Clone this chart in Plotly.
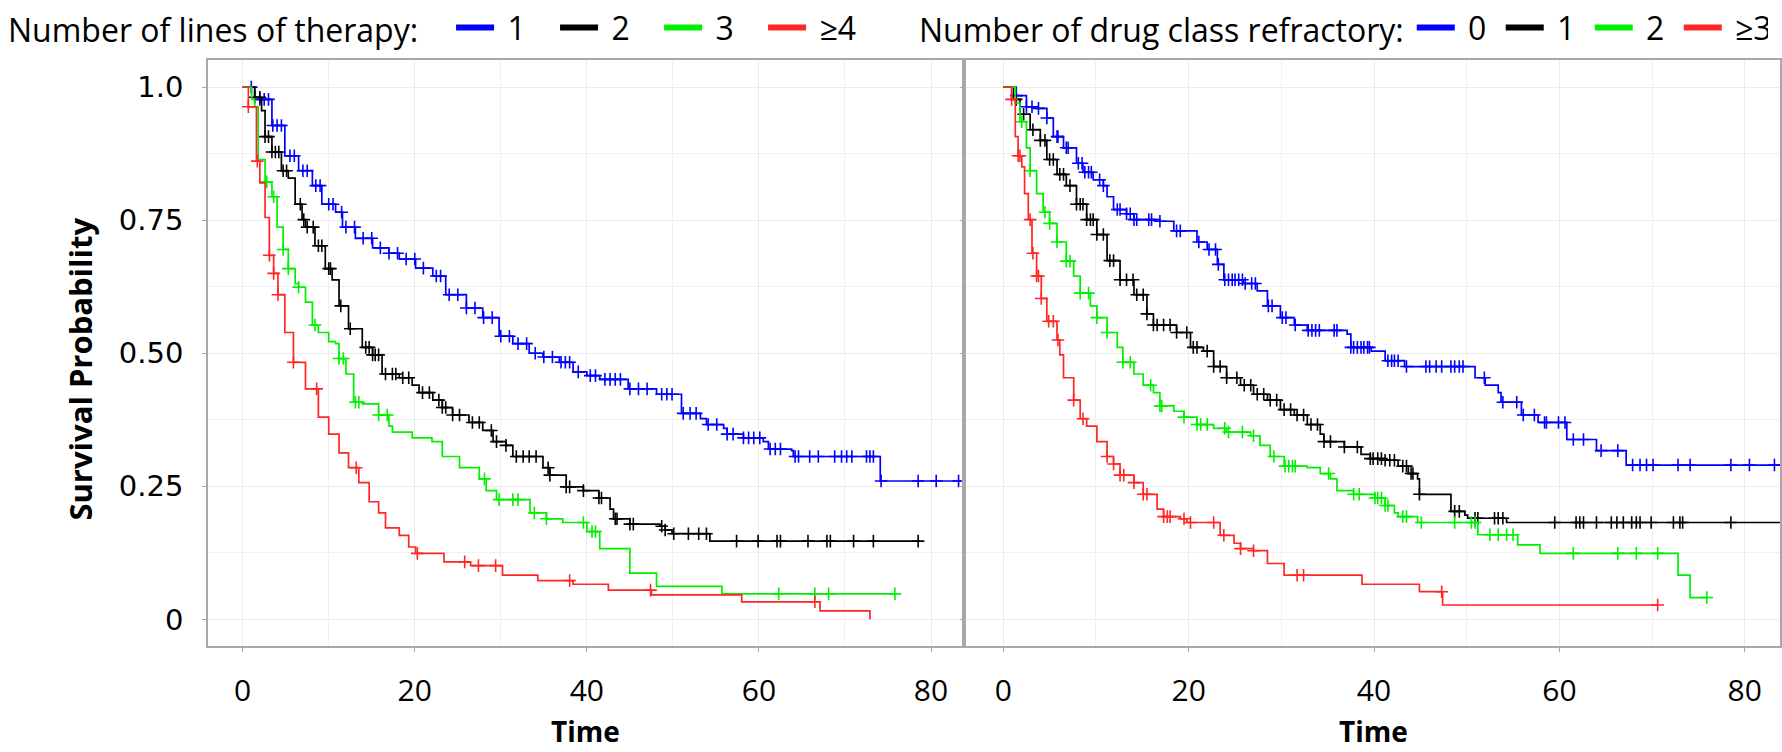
import numpy as np
import plotly.graph_objects as go

# ---------------- Kaplan-Meier step data: number of lines of therapy ----------------
lot_labels = ["1", "2", "3", "≥4"]

lot1_time = [0, 1.4, 3.4, 4.9, 6.5, 8.1, 9.2, 10.8, 11.6, 13.1, 15.1, 17.0, 18.2, 20.1, 22.1, 23.6,
             26.0, 27.9, 29.8, 31.4, 33.3, 34.9, 36.8, 38.4, 40.0, 41.5, 44.8, 48.1, 51.0, 53.2, 53.9,
             55.9, 56.3, 58.2, 60.5, 61.1, 63.8, 64.0, 74.1, 83.5]
lot1_surv = [1.0, 0.977, 0.928, 0.871, 0.843, 0.815, 0.78, 0.765, 0.737, 0.716, 0.698, 0.688, 0.677, 0.66,
             0.645, 0.61, 0.585, 0.567, 0.532, 0.518, 0.50, 0.493, 0.483, 0.465, 0.458, 0.451, 0.433, 0.423,
             0.387, 0.377, 0.366, 0.359, 0.348, 0.341, 0.334, 0.32, 0.317, 0.306, 0.26, 0.26]
lot1_cens = [1.0, 2.0, 2.5, 3.0, 3.5, 4.0, 4.5, 5.5, 6.0, 7.0, 7.5, 8.5, 9.0, 10.0, 10.5, 11.5, 12.0, 13.0,
             14.0, 15.0, 16.0, 17.0, 18.0, 19.0, 20.0, 21.0, 22.5, 23.0, 24.0, 25.0, 26.0, 27.0, 28.0, 29.0,
             30.0, 31.0, 32.0, 33.0, 34.0, 35.0, 36.0, 37.0, 37.5, 38.0, 39.0, 40.4, 41.0, 42.1, 42.7, 43.3,
             43.9, 45.0, 46.0, 47.0, 48.7, 49.3, 49.9, 51.2, 52.0, 52.7, 54.1, 55.1, 56.3, 57.0, 58.2, 58.8,
             59.4, 60.1, 61.3, 61.9, 62.5, 64.2, 64.6, 65.9, 66.9, 68.8, 69.6, 70.2, 70.8, 72.5, 72.9, 73.3,
             74.2, 78.5, 80.6, 83.2]

lot2_time = [0, 1.4, 2.2, 2.6, 3.4, 4.5, 5.3, 6.1, 6.9, 7.3, 8.4, 9.6, 10.4, 11.2, 12.3, 13.9, 15.1, 16.2,
             18.2, 19.7, 20.5, 22.1, 23.2, 24.4, 26.3, 27.9, 29.1, 30.6, 31.4, 34.9, 35.7, 37.6, 39.6, 41.4,
             42.7, 43.1, 45.0, 48.5, 49.1, 49.9, 54.3, 78.7]
lot2_surv = [1.0, 0.981, 0.956, 0.907, 0.878, 0.843, 0.829, 0.78, 0.751, 0.737, 0.702, 0.659, 0.638, 0.589,
             0.546, 0.511, 0.497, 0.461, 0.454, 0.44, 0.426, 0.412, 0.398, 0.384, 0.37, 0.355, 0.334, 0.327,
             0.306, 0.285, 0.271, 0.249, 0.242, 0.228, 0.207, 0.189, 0.179, 0.175, 0.168, 0.161, 0.147, 0.147]
lot2_cens = [1.4, 2.0, 2.6, 3.0, 3.4, 3.8, 4.2, 4.7, 5.1, 6.7, 7.1, 7.5, 8.2, 8.8, 9.2, 10.0, 10.2, 11.4,
             12.5, 14.3, 14.7, 15.1, 15.4, 15.8, 16.6, 17.4, 17.8, 18.6, 19.3, 20.9, 21.7, 22.8, 23.2, 23.6,
             24.4, 25.2, 26.7, 27.5, 28.9, 29.5, 30.6, 31.8, 32.6, 33.3, 34.1, 35.5, 35.7, 37.6, 38.0, 39.6,
             41.4, 41.7, 43.3, 43.5, 45.0, 45.4, 48.7, 49.1, 50.1, 51.8, 53.0, 53.9, 57.4, 59.9, 62.1, 62.5,
             65.7, 67.9, 68.3, 71.0, 73.3, 78.5]

lot3_time = [0, 1.05, 1.4, 1.8, 2.6, 3.4, 4.0, 4.7, 5.3, 6.1, 6.5, 7.3, 8.1, 8.8, 10.0, 10.8, 11.2, 12.0,
             12.9, 13.9, 15.8, 17.0, 17.4, 19.7, 22.0, 23.2, 25.2, 27.5, 28.3, 29.5, 33.4, 35.3, 37.2, 40.0,
             41.5, 45.0, 48.1, 55.7, 75.8]
lot3_surv = [1.0, 0.977, 0.963, 0.864, 0.822, 0.794, 0.737, 0.695, 0.659, 0.631, 0.624, 0.596, 0.553, 0.539,
             0.522, 0.518, 0.49, 0.461, 0.408, 0.405, 0.384, 0.363, 0.352, 0.341, 0.334, 0.306, 0.285, 0.264,
             0.242, 0.225, 0.2, 0.189, 0.182, 0.165, 0.133, 0.087, 0.062, 0.048, 0.048]
lot3_cens = [2.8, 3.6, 4.7, 5.3, 6.5, 8.4, 11.2, 11.7, 13.1, 13.5, 15.8, 16.8, 28.1, 29.8, 31.4, 32.0,
             33.9, 35.3, 39.6, 40.6, 41.0, 62.3, 66.5, 68.1, 75.8]

lot4_time = [0, 0.66, 1.6, 2.0, 2.6, 3.1, 3.6, 4.1, 4.9, 5.9, 7.3, 8.8, 10.0, 11.2, 12.3, 13.5, 14.7, 15.8,
             16.6, 18.2, 19.3, 20.1, 23.4, 26.5, 30.2, 34.3, 38.4, 42.5, 47.5, 58.0, 67.1, 72.9]
lot4_surv = [1.0, 0.963, 0.861, 0.82, 0.755, 0.684, 0.65, 0.61, 0.539, 0.483, 0.433, 0.38, 0.348, 0.313,
             0.285, 0.257, 0.221, 0.20, 0.172, 0.158, 0.136, 0.124, 0.108, 0.101, 0.083, 0.073, 0.066, 0.055,
             0.046, 0.033, 0.016, 0.0]
lot4_cens = [0.66, 1.7, 3.1, 3.6, 4.1, 5.9, 8.6, 13.2, 20.3, 25.8, 27.4, 29.4, 38.0, 47.4, 66.5]

# ---------------- Kaplan-Meier step data: number of drug class refractory ----------------
dc_labels = ["0", "1", "2", "≥3"]

dc0_time = [0, 1.4, 2.5, 3.6, 4.7, 5.4, 6.5, 7.9, 8.6, 9.7, 10.8, 11.2, 11.9, 13.3, 14.1, 16.9, 18.4,
            20.9, 22.0, 23.1, 23.8, 25.9, 27.4, 28.5, 29.9, 31.4, 32.8, 37.1, 37.5, 39.7, 41.2, 43.3, 50.9,
            52.0, 53.4, 53.7, 55.9, 57.7, 60.8, 64.0, 67.2, 84.0]
dc0_surv = [1.0, 0.984, 0.963, 0.96, 0.942, 0.907, 0.886, 0.857, 0.84, 0.826, 0.815, 0.794, 0.77, 0.762,
            0.751, 0.748, 0.73, 0.709, 0.695, 0.667, 0.638, 0.631, 0.617, 0.589, 0.567, 0.553, 0.543, 0.536,
            0.511, 0.504, 0.486, 0.475, 0.454, 0.44, 0.426, 0.408, 0.384, 0.37, 0.338, 0.317, 0.29, 0.29]
dc0_cens = [1.4, 2.5, 3.1, 3.8, 4.7, 5.8, 5.9, 6.8, 7.0, 8.1, 8.5, 8.8, 9.2, 9.5, 10.4, 10.8, 12.3, 12.6,
            13.3, 13.7, 14.1, 14.4, 15.7, 16.0, 16.9, 18.7, 19.1, 21.1, 22.2, 22.9, 23.2, 23.9, 24.3, 24.7,
            25.0, 25.4, 25.8, 26.1, 26.8, 27.2, 28.6, 29.0, 30.1, 30.5, 31.5, 32.9, 33.3, 33.7, 34.1, 35.7,
            36.0, 37.5, 37.8, 38.2, 38.6, 38.9, 39.3, 39.5, 41.5, 41.9, 42.2, 42.6, 43.5, 45.6, 46.0, 46.7,
            47.3, 48.3, 48.7, 49.2, 49.6, 51.9, 53.9, 55.4, 56.1, 57.3, 58.4, 58.6, 59.9, 60.6, 61.5, 62.6,
            64.5, 66.3, 67.9, 68.7, 69.4, 70.1, 72.8, 74.1, 78.5, 80.5, 83.2]

dc1_time = [0, 1.1, 1.8, 2.9, 4.0, 4.7, 5.8, 6.8, 7.9, 9.0, 10.1, 11.2, 12.6, 14.1, 15.5, 16.2, 18.7, 20.2,
            21.6, 22.7, 24.1, 25.6, 27.0, 28.5, 29.9, 31.4, 32.8, 34.2, 34.6, 36.8, 38.6, 39.6, 41.2, 42.6,
            43.7, 44.7, 44.9, 48.3, 49.8, 50.1, 54.3, 84.0]
dc1_surv = [1.0, 0.977, 0.949, 0.92, 0.9, 0.864, 0.836, 0.815, 0.78, 0.751, 0.723, 0.674, 0.638, 0.61,
            0.574, 0.553, 0.539, 0.511, 0.504, 0.475, 0.454, 0.44, 0.423, 0.412, 0.394, 0.384, 0.366, 0.348,
            0.334, 0.324, 0.31, 0.302, 0.299, 0.288, 0.274, 0.264, 0.235, 0.203, 0.196, 0.19, 0.182, 0.182]
dc1_cens = [1.4, 2.2, 3.2, 4.0, 4.5, 5.0, 5.4, 6.1, 6.5, 7.2, 7.9, 8.3, 8.6, 9.0, 9.4, 9.7, 10.1, 10.8,
            11.5, 11.9, 12.6, 13.3, 14.0, 14.4, 15.1, 15.5, 16.2, 16.6, 17.3, 18.0, 18.7, 19.8, 20.5, 20.9,
            22.0, 22.7, 23.4, 24.1, 25.2, 26.0, 26.7, 27.4, 28.1, 28.8, 29.5, 30.3, 31.0, 31.7, 32.4, 33.2,
            33.9, 34.6, 35.3, 36.8, 38.2, 39.6, 39.9, 40.4, 40.8, 41.2, 41.7, 42.2, 43.1, 43.5, 44.0, 44.2,
            44.9, 48.7, 49.2, 50.9, 51.2, 53.0, 53.4, 53.9, 59.5, 61.8, 62.2, 62.6, 64.0, 65.6, 66.2, 66.9,
            67.8, 68.3, 68.7, 69.9, 72.3, 73.0, 73.3, 78.5]

dc2_time = [0, 1.3, 1.8, 2.5, 2.9, 3.6, 4.3, 5.0, 5.8, 6.8, 7.6, 8.3, 9.4, 10.1, 11.2, 12.3, 12.9, 14.1,
            15.1, 16.2, 16.9, 18.4, 19.5, 20.9, 22.7, 24.1, 26.7, 27.7, 28.8, 30.3, 32.8, 34.2, 35.3, 36.0,
            37.8, 40.1, 41.2, 42.2, 42.6, 44.7, 51.2, 55.5, 57.9, 72.8, 74.1, 75.9]
dc2_surv = [1.0, 0.97, 0.935, 0.886, 0.843, 0.8, 0.765, 0.744, 0.709, 0.673, 0.645, 0.613, 0.589, 0.567,
            0.539, 0.511, 0.483, 0.461, 0.44, 0.426, 0.401, 0.391, 0.38, 0.366, 0.359, 0.352, 0.345, 0.327,
            0.306, 0.288, 0.285, 0.274, 0.264, 0.242, 0.235, 0.228, 0.214, 0.2, 0.193, 0.182, 0.159, 0.14,
            0.124, 0.083, 0.041, 0.041]
dc2_cens = [2.0, 2.9, 4.5, 5.0, 5.8, 6.8, 7.2, 8.3, 9.2, 10.1, 11.2, 12.9, 13.7, 15.9, 16.9, 17.1, 19.5,
            20.9, 21.3, 22.0, 23.9, 24.3, 25.8, 27.0, 29.2, 30.4, 30.8, 31.2, 31.5, 35.1, 37.8, 38.4, 40.1,
            40.4, 40.8, 41.2, 41.5, 43.1, 43.5, 45.1, 48.7, 50.5, 50.9, 52.5, 53.4, 54.3, 55.0, 61.5, 66.3,
            68.3, 70.6, 75.9]

dc3_time = [0, 0.9, 1.3, 1.6, 2.0, 2.3, 2.7, 3.1, 3.6, 4.1, 4.7, 5.8, 6.1, 6.5, 7.6, 8.3, 9.0, 10.1, 11.2,
            11.9, 12.6, 14.1, 15.1, 16.6, 17.3, 19.1, 19.8, 23.4, 24.9, 25.6, 27.0, 28.5, 30.3, 38.7, 44.9,
            47.4, 70.6]
dc3_surv = [1.0, 0.977, 0.907, 0.871, 0.85, 0.8, 0.751, 0.688, 0.645, 0.603, 0.56, 0.525, 0.497, 0.454,
            0.412, 0.377, 0.363, 0.334, 0.306, 0.292, 0.271, 0.257, 0.235, 0.207, 0.193, 0.189, 0.182, 0.158,
            0.143, 0.133, 0.129, 0.105, 0.083, 0.066, 0.052, 0.027, 0.027]
dc3_cens = [0.9, 1.6, 1.8, 2.9, 3.2, 3.6, 3.8, 4.1, 4.9, 5.4, 5.9, 7.6, 8.6, 11.2, 11.9, 12.6, 13.0, 14.1,
            15.1, 15.5, 17.3, 17.7, 18.0, 19.5, 20.2, 22.7, 23.8, 25.6, 27.0, 31.7, 32.4, 47.3, 70.6]

colors = ["#0000ff", "#000000", "#00f000", "#ff2626"]

lot_series = [(lot1_time, lot1_surv, lot1_cens), (lot2_time, lot2_surv, lot2_cens),
              (lot3_time, lot3_surv, lot3_cens), (lot4_time, lot4_surv, lot4_cens)]
dc_series = [(dc0_time, dc0_surv, dc0_cens), (dc1_time, dc1_surv, dc1_cens),
             (dc2_time, dc2_surv, dc2_cens), (dc3_time, dc3_surv, dc3_cens)]

FONT = "Open Sans"
W, H = 1782, 752
NBSP = "\u00a0"


def km_at(times, surv, t):
    """Survival estimate of a step curve at time t."""
    idx = np.searchsorted(np.asarray(times), np.asarray(t), side="right") - 1
    return np.asarray(surv)[idx]


fig = go.Figure()


def add_panel(series, labels, xa, ya, legend_name, group_prefix):
    for (t, s, c), lab, col in zip(series, labels, colors):
        grp = f"{group_prefix}{lab}"
        fig.add_trace(go.Scatter(
            x=t, y=s, mode="lines", line=dict(color=col, width=1.7, shape="hv"),
            xaxis=xa, yaxis=ya, legendgroup=grp, showlegend=False, name=lab,
        ))
        fig.add_trace(go.Scatter(
            x=c, y=km_at(t, s, c), mode="markers",
            marker=dict(symbol="cross-thin", size=9, line=dict(color=col, width=1.6)),
            xaxis=xa, yaxis=ya, legendgroup=grp, showlegend=False, name=lab,
        ))
        # legend key: short thick dash, label set slightly apart from it
        fig.add_trace(go.Scatter(
            x=[None], y=[None], mode="lines", line=dict(color=col, width=6),
            xaxis=xa, yaxis=ya, legendgroup=grp, showlegend=True, name=NBSP + lab,
            legend=legend_name,
        ))


add_panel(lot_series, lot_labels, "x", "y", "legend", "lot")
add_panel(dc_series, dc_labels, "x2", "y2", "legend2", "dc")

y_dom = [(H - 645) / H, (H - 54) / H]
grid = "#ebebeb"
frame = "#a8a8a8"

xcommon = dict(
    tickvals=[0, 20, 40, 60, 80], ticks="outside", ticklen=4, tickcolor=frame, tickwidth=1,
    showline=True, mirror=True, linecolor=frame, linewidth=1.5,
    showgrid=True, gridcolor=grid, gridwidth=1, zeroline=False,
    minor=dict(tick0=0, dtick=10, showgrid=True, gridcolor="#f1f1f1", gridwidth=1),
    tickfont=dict(family=FONT, size=30, color="#000000"), ticklabelstandoff=13,
)
ycommon = dict(
    range=[-0.05, 1.05], domain=y_dom,
    tickvals=[0, 0.25, 0.5, 0.75, 1.0], ticks="outside", ticklen=4, tickcolor=frame,
    showline=True, mirror=True, linecolor=frame, linewidth=1.5,
    showgrid=True, gridcolor=grid, gridwidth=1, zeroline=False,
    minor=dict(tick0=0, dtick=0.125, showgrid=True, gridcolor="#f1f1f1", gridwidth=1),
)

title_font = dict(family=FONT, size=32, color="#000000")
time_font = dict(family=FONT, size=28, color="#000000")
ytitle_font = dict(family=FONT, size=31, color="#000000")

fig.update_layout(
    width=W, height=H,
    margin=dict(l=0, r=0, t=0, b=0),
    paper_bgcolor="white", plot_bgcolor="white",
    font=dict(family=FONT, color="#000000"),
    xaxis=dict(domain=[208 / W, 962 / W], range=[-4.03, 83.6], anchor="y", **xcommon),
    xaxis2=dict(domain=[966 / W, 1780 / W], range=[-4.02, 83.8], anchor="y2", **xcommon),
    yaxis=dict(anchor="x", ticktext=["0", "0.25", "0.50", "0.75", "1.0"],
               tickfont=dict(family="DejaVu Sans", size=29, color="#000000"),
               ticklabelstandoff=13, **ycommon),
    yaxis2=dict(anchor="x2", showticklabels=False, **ycommon),
    legend=dict(
        orientation="h", x=6 / W, y=1 - 21 / H, xanchor="left", yanchor="middle",
        title=dict(text="Number of lines of therapy:" + NBSP * 3, side="left", font=title_font),
        font=title_font, itemwidth=38, entrywidth=51,
        bgcolor="rgba(0,0,0,0)", borderwidth=0,
    ),
    legend2=dict(
        orientation="h", x=917 / W, y=1 - 21 / H, xanchor="left", yanchor="middle",
        title=dict(text="Number of drug class refractory:", side="left", font=title_font),
        font=title_font, itemwidth=38, entrywidth=36,
        bgcolor="rgba(0,0,0,0)", borderwidth=0,
    ),
    annotations=[
        dict(text="<b>Survival Probability</b>", x=80 / W, y=1 - 366 / H, xref="paper", yref="paper",
             textangle=-90, showarrow=False, font=ytitle_font,
             xanchor="center", yanchor="middle"),
        dict(text="<b>Time</b>", x=585 / W, y=0, xref="paper", yref="paper",
             showarrow=False, font=time_font, xanchor="center", yanchor="bottom"),
        dict(text="<b>Time</b>", x=1373 / W, y=0, xref="paper", yref="paper",
             showarrow=False, font=time_font, xanchor="center", yanchor="bottom"),
    ],
    showlegend=True,
)

fig.write_html("out.html")
